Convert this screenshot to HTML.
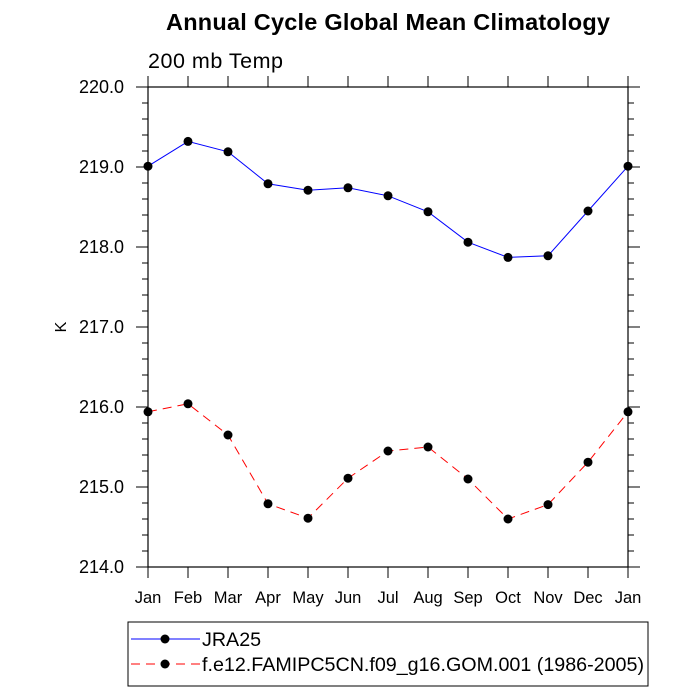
<!DOCTYPE html>
<html><head><meta charset="utf-8"><style>body{margin:0;background:#fff}svg{display:block;font-family:"Liberation Sans",sans-serif}</style></head>
<body>
<svg id="chart" width="700" height="700">
<text x="388" y="30" text-anchor="middle" font-size="23.5" font-weight="bold" textLength="444">Annual Cycle Global Mean Climatology</text>
<text x="148" y="68" font-size="21.5" textLength="135">200 mb Temp</text>
<text x="66" y="327" font-size="16" text-anchor="middle" transform="rotate(-90 66 327)">K</text>
<g id="axes"></g>
<g id="series"></g>
<rect x="128" y="622" width="520" height="64" fill="none" stroke="#000" stroke-width="1"/>
<g>
<line x1="131" y1="639" x2="200" y2="639" stroke="#00f" stroke-width="1"/><circle cx="165" cy="639" r="4.5"/>
<text x="202" y="646" font-size="19.7">JRA25</text></g>
<g>
<line x1="131" y1="664" x2="200" y2="664" stroke="#f00" stroke-width="1" stroke-dasharray="9,6"/><circle cx="165" cy="664" r="4.5"/>
<text x="202" y="671" font-size="19.7" textLength="442">f.e12.FAMIPC5CN.f09_g16.GOM.001 (1986-2005)</text></g>
</svg>
<script>
const months=["Jan","Feb","Mar","Apr","May","Jun","Jul","Aug","Sep","Oct","Nov","Dec","Jan"];
const jra25=[219.01,219.32,219.19,218.79,218.71,218.74,218.64,218.44,218.06,217.87,217.89,218.45,219.01];
const model=[215.94,216.04,215.65,214.79,214.61,215.11,215.45,215.50,215.10,214.60,214.78,215.31,215.94];
const yTicks=[214,215,216,217,218,219,220];
const NS="http://www.w3.org/2000/svg";
const L=148,R=628,T=87,B=567,ymin=214,ymax=220;
const xs=i=>L+i*(R-L)/(months.length-1);
const ys=v=>B-(v-ymin)/(ymax-ymin)*(B-T);
function mk(tag,a,p){const e=document.createElementNS(NS,tag);for(const k in a)e.setAttribute(k,a[k]);p.appendChild(e);return e;}
const ax=document.getElementById('axes');
const fr=mk('rect',{x:L,y:T,width:R-L,height:B-T,fill:'none',stroke:'#000','stroke-width':1.2},ax);


months.forEach((m,i)=>{const x=xs(i);
mk('line',{x1:x,y1:B,x2:x,y2:B+11,stroke:'#000'},ax);
mk('line',{x1:x,y1:T,x2:x,y2:T-11,stroke:'#000'},ax);
const t=mk('text',{x:x,y:603,'text-anchor':'middle','font-size':16.5},ax);t.textContent=m;

});
for(let v=ymin;v<=ymax+1e-9;v+=0.2){const y=ys(v);const maj=Math.abs(v-Math.round(v))<1e-6;const len=maj?12:6;
mk('line',{x1:L-len,y1:y,x2:L,y2:y,stroke:'#000'},ax);
mk('line',{x1:R,y1:y,x2:R+len,y2:y,stroke:'#000'},ax);}
yTicks.forEach(v=>{const t=mk('text',{x:124,y:ys(v)+6,'text-anchor':'end','font-size':18},ax);t.textContent=v.toFixed(1);

});
const sg=document.getElementById('series');
function draw(data,color,dash,name){const g=mk('g',{},sg);


mk('polyline',{points:data.map((v,i)=>xs(i)+','+ys(v)).join(' '),fill:'none',stroke:color,'stroke-width':1,'stroke-dasharray':dash},g);
data.forEach((v,i)=>{const c=mk('circle',{cx:xs(i),cy:ys(v),r:4.5,fill:'#000'},g);

});}
draw(jra25,'#00f','none','jra25-series');
draw(model,'#f00','9,6','model-series');
</script>
</body></html>
